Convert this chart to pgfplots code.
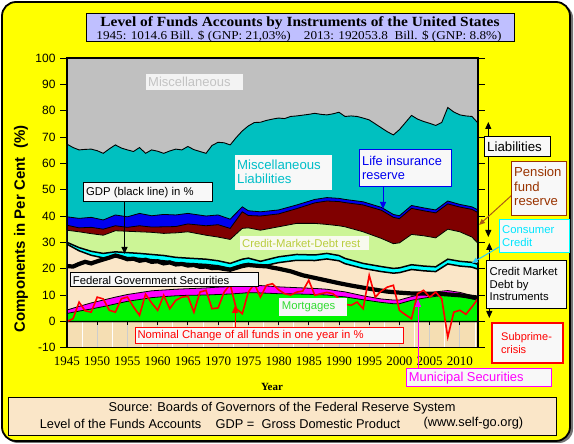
\documentclass[border=0pt]{standalone}
\usepackage{pgfplots}
\pgfplotsset{compat=1.18}
\usepackage{pgfplotstable}
\usetikzlibrary{arrows.meta}
\usepackage{graphicx}
\usepackage{fontspec}
\setmainfont{Liberation Sans}
\newfontfamily\serif{Liberation Serif}

\definecolor{bgyellow}{RGB}{255,255,0}
\definecolor{misc}{RGB}{192,192,192}
\definecolor{miscliab}{RGB}{0,192,192}
\definecolor{life}{RGB}{0,0,240}
\definecolor{pension}{RGB}{128,0,0}
\definecolor{cmdrest}{RGB}{204,245,150}
\definecolor{cc}{RGB}{0,255,255}
\definecolor{fedgov}{RGB}{250,230,200}
\definecolor{muni}{RGB}{255,0,255}
\definecolor{mort}{RGB}{0,245,0}
\definecolor{below}{RGB}{245,222,179}
\definecolor{titlebox}{RGB}{191,191,255}
\definecolor{srcbox}{RGB}{250,230,200}
\definecolor{boxfill}{RGB}{248,248,248}
\definecolor{pensiontxt}{RGB}{153,51,0}
\definecolor{pensionarr}{RGB}{170,90,20}
\definecolor{cmdtxt}{RGB}{185,205,60}
\definecolor{mortxt}{RGB}{50,220,50}
\definecolor{liabtxt}{RGB}{0,190,200}
\definecolor{cctxt}{RGB}{0,230,255}
\definecolor{ccarr}{RGB}{40,200,255}

% boundaries (cumulative tops of stacked components, %)
\pgfplotstableread{
yr v
1945 3.0
1947 3.9
1949 4.7
1951 5.6
1953 6.6
1955 7.6
1957 8.3
1959 9.0
1961 9.4
1963 9.7
1965 9.9
1968 10.0
1970 10.2
1972 10.4
1974 10.7
1975 10.9
1977 10.8
1980 10.5
1983 10.4
1986 10.2
1988 10.0
1990 9.5
1991 9.3
1994 8.2
1997 7.2
1999 6.7
2000 6.7
2002 8.0
2004 8.8
2006 9.5
2008 10.0
2010 9.6
2012 8.5
2013 8.0
}\tbA
\pgfplotstableread{
yr v
1945 4.3
1947 5.7
1949 7.0
1951 8.1
1953 9.2
1955 10.2
1957 10.9
1959 11.6
1961 11.9
1963 12.2
1965 12.4
1968 12.7
1970 13.0
1972 13.2
1974 13.5
1975 13.7
1977 13.6
1980 13.1
1983 12.8
1986 12.5
1988 12.2
1990 11.5
1991 11.2
1994 9.7
1997 8.5
1999 8.1
2000 8.1
2002 9.4
2004 10.4
2006 11.2
2008 11.7
2010 11.0
2012 9.8
2013 9.3
}\tbB
\pgfplotstableread{
yr v
1945 29.3
1947 26.8
1949 25.1
1951 24.1
1953 24.5
1955 24.2
1957 23.9
1959 23.4
1961 23.0
1963 22.3
1965 22.0
1968 21.6
1970 21.1
1972 20.1
1974 21.6
1975 22.0
1977 20.8
1980 22.3
1983 23.2
1986 23.1
1988 23.7
1990 23.0
1991 21.9
1994 20.1
1997 18.9
1999 18.3
2000 18.5
2002 19.7
2004 19.2
2006 18.9
2008 21.8
2010 21.0
2012 20.6
2013 19.8
}\tbC
\pgfplotstableread{
yr v
1945 30.0
1947 28.0
1949 26.6
1951 25.8
1953 26.4
1955 26.1
1957 25.8
1959 25.4
1961 25.0
1963 24.3
1965 24.0
1968 23.6
1970 23.0
1972 22.0
1974 23.6
1975 24.0
1977 22.8
1980 24.5
1983 25.4
1986 25.2
1988 25.8
1990 25.0
1991 23.9
1994 22.0
1997 20.8
1999 20.1
2000 20.3
2002 21.5
2004 21.0
2006 20.7
2008 23.6
2010 22.8
2012 22.4
2013 21.6
}\tbD
\pgfplotstableread{
yr v
1945 34.6
1947 34.0
1949 33.3
1951 32.7
1953 34.4
1955 34.2
1957 34.0
1959 33.8
1961 33.4
1963 33.6
1965 34.0
1968 32.7
1970 32.0
1972 31.1
1974 35.3
1975 35.5
1977 34.6
1980 35.9
1983 37.2
1986 37.2
1988 36.8
1990 36.3
1991 35.9
1994 34.0
1997 31.5
1999 29.5
2000 29.8
2002 33.0
2004 32.5
2006 31.7
2008 35.0
2010 34.0
2012 32.0
2013 29.6
}\tbE
\pgfplotstableread{
yr v
1945 36.5
1947 35.5
1949 35.7
1951 35.0
1953 36.3
1955 35.7
1957 36.3
1959 35.8
1961 35.9
1963 36.0
1965 37.0
1968 36.3
1970 36.7
1972 35.3
1974 41.6
1975 40.2
1977 40.0
1980 40.8
1983 42.8
1986 45.0
1988 45.7
1990 45.5
1991 45.1
1994 44.2
1997 42.2
1999 39.5
2000 39.0
2002 42.9
2004 42.0
2006 41.2
2008 44.6
2010 43.4
2012 42.5
2013 41.3
}\tbF
\pgfplotstableread{
yr v
1945 39.7
1947 39.1
1949 39.5
1951 38.5
1953 40.4
1955 39.7
1957 41.0
1959 40.1
1961 40.6
1963 40.4
1965 41.0
1968 40.0
1970 40.4
1972 38.8
1974 43.5
1975 42.0
1977 41.6
1980 42.3
1983 44.2
1986 46.3
1988 47.0
1990 46.7
1991 46.3
1994 45.4
1997 43.3
1999 40.6
2000 40.1
2002 44.0
2004 43.1
2006 42.3
2008 45.7
2010 44.4
2012 43.5
2013 42.3
}\tbG
\pgfplotstableread{
yr v
1945 67.3
1946 66.0
1947 65.1
1948 65.3
1949 65.4
1950 64.8
1951 63.8
1952 65.5
1953 67.0
1954 65.8
1955 65.1
1956 64.5
1957 66.0
1958 63.8
1959 65.1
1960 64.6
1961 63.8
1962 64.7
1963 65.4
1964 65.1
1965 66.4
1966 65.2
1967 64.5
1968 63.8
1969 66.8
1970 68.0
1971 67.8
1972 67.0
1973 69.8
1974 72.3
1975 74.2
1976 75.5
1977 75.6
1978 76.3
1979 76.8
1980 77.2
1981 77.0
1982 77.8
1983 78.0
1984 78.3
1985 78.6
1986 79.0
1987 78.6
1988 78.4
1989 78.8
1990 79.4
1991 77.8
1992 78.0
1993 77.8
1994 77.2
1995 76.5
1996 75.0
1997 73.5
1998 72.0
1999 70.8
2000 72.8
2001 75.5
2002 78.2
2003 76.8
2004 75.9
2005 75.2
2006 74.4
2007 75.5
2008 81.2
2009 79.5
2010 78.4
2011 78.0
2012 77.8
2013 75.3
}\tbH
% GDP (black line)
\pgfplotstableread{
yr v
1945 21.0
1946 20.8
1947 21.8
1948 22.6
1949 22.0
1950 22.8
1951 23.5
1952 24.2
1953 25.0
1954 24.4
1955 23.6
1956 23.8
1957 23.0
1958 23.4
1959 22.6
1960 22.8
1961 22.0
1962 22.4
1963 21.6
1964 21.8
1965 21.2
1966 21.4
1967 20.7
1968 20.8
1969 20.2
1970 20.3
1971 19.9
1972 19.6
1973 20.3
1974 21.0
1975 21.4
1976 21.2
1977 21.0
1978 20.9
1979 20.4
1980 20.0
1982 19.0
1984 17.5
1986 16.5
1988 15.5
1990 14.5
1992 13.6
1995 12.4
1998 11.3
2000 10.9
2002 10.6
2005 10.5
2007 10.4
2010 9.9
2013 9.0
}\tbgdp
% Nominal change of all funds in one year
\pgfplotstableread{
yr v
1945 0
1946 1
1947 7.3
1948 4
1949 3.5
1950 9.2
1951 8.5
1952 4.2
1953 3.5
1954 8.6
1955 9.2
1956 5.5
1957 2.3
1958 10.3
1959 7
1960 4.2
1961 9.9
1962 4.8
1963 8
1964 9.2
1965 9.5
1966 3.5
1967 11.1
1968 11.8
1969 4.8
1970 5.1
1971 11.1
1972 14
1973 4.8
1974 2.9
1975 11.1
1976 14.3
1977 9.2
1978 13.7
1979 14.3
1980 12
1981 10.5
1982 10
1983 11.1
1984 11.5
1985 15.6
1986 9.9
1987 10.5
1988 11
1989 10.5
1990 8.6
1991 6.5
1992 6.1
1993 7.3
1994 4.8
1995 17.5
1996 9.2
1997 11.5
1998 13
1999 13.7
2000 4.2
2001 2.5
2002 1
2003 10.5
2004 11.8
2005 9.2
2006 11.1
2007 8.6
2008 -6
2009 3.5
2010 4.2
2011 2.7
2012 5.5
2013 8.6
}\tbchg

\begin{document}
\begin{tikzpicture}
\begin{scope}[x=1pt,y=1pt]
\path (0,0) rectangle (574,444);
\fill[black!55, rounded corners=14pt] (4,1) rectangle (573,440);
\draw[line width=1.8pt, fill=bgyellow, rounded corners=14pt] (2,3) rectangle (570,442);
\end{scope}

\begin{axis}[
  at={(67pt,96.3pt)}, anchor=south west,
  scale only axis, width=411pt, height=289.7pt,
  xmin=1945, xmax=2013, ymin=-10, ymax=100,
  axis background/.style={fill=below},
  xtick={1945,1950,1955,1960,1965,1970,1975,1980,1985,1990,1995,2000,2005,2010},
  xticklabels={1945,1950,1955,1960,1965,1970,1975,1980,1985,1990,1995,2000,2005,2010},
  minor xtick={1947.5,1952.5,1957.5,1962.5,1967.5,1972.5,1977.5,1982.5,1987.5,1992.5,1997.5,2002.5,2007.5,2012.5},
  xmajorgrids, xminorgrids,
  major grid style={draw={rgb,255:red,205;green,205;blue,205}, line width=0.9pt},
  minor grid style={draw=white, line width=0.9pt},
  xtick style={draw=none},
  ytick={-10,0,10,20,30,40,50,60,70,80,90,100},
  ytick style={black, line width=0.8pt},
  tick align=outside, major tick length=7pt, minor tick length=0pt,
  /pgf/number format/assume math mode=true,
  yticklabel style={font=\fontsize{12}{12}\selectfont, xshift=-1pt},
  xticklabel style={font=\serif\fontsize{13}{13}\selectfont, yshift=1pt},
  axis line style={line width=1.5pt},
  no markers,
]
% stacked areas, painted from the top component down
\addplot[fill=misc, draw=none] coordinates {(1945,100) (2013,100)} -- (axis cs:2013,0) -- (axis cs:1945,0) -- cycle;
\addplot[fill=miscliab, draw=black, line width=0.9pt] table[x=yr,y=v]{\tbH} -- (axis cs:2013,0) -- (axis cs:1945,0) -- cycle;
\addplot[fill=life, draw=black, line width=0.8pt] table[x=yr,y=v]{\tbG} -- (axis cs:2013,0) -- (axis cs:1945,0) -- cycle;
\addplot[fill=pension, draw=black, line width=0.8pt] table[x=yr,y=v]{\tbF} -- (axis cs:2013,0) -- (axis cs:1945,0) -- cycle;
\addplot[fill=cmdrest, draw=black, line width=0.8pt] table[x=yr,y=v]{\tbE} -- (axis cs:2013,0) -- (axis cs:1945,0) -- cycle;
\addplot[fill=cc, draw=black, line width=1.5pt] table[x=yr,y=v]{\tbD} -- (axis cs:2013,0) -- (axis cs:1945,0) -- cycle;
\addplot[fill=fedgov, draw=black, line width=1.5pt] table[x=yr,y=v]{\tbC} -- (axis cs:2013,0) -- (axis cs:1945,0) -- cycle;
\addplot[fill=muni, draw=black, line width=0.8pt] table[x=yr,y=v]{\tbB} -- (axis cs:2013,0) -- (axis cs:1945,0) -- cycle;
\addplot[fill=mort, draw=black, line width=0.8pt] table[x=yr,y=v]{\tbA} -- (axis cs:2013,0) -- (axis cs:1945,0) -- cycle;

\addplot[black, line width=4.2pt] table[x=yr,y=v]{\tbgdp};
\addplot[red, line width=1.6pt] table[x=yr,y=v]{\tbchg};

\pgfplotsinvokeforeach{1950,1955,1960,1965,1970,1975,1980,1985,1990,1995,2000,2005,2010}{
  \draw[black, line width=0.8pt] (axis cs:#1,0) -- ++(0pt,-4pt);
}
\draw[line width=1.6pt] (rel axis cs:0,0) rectangle (rel axis cs:1,1);
\end{axis}

\begin{scope}[x=1pt,y=1pt]
% title
\filldraw[draw=black, fill=titlebox, line width=1pt] (86,430) rectangle (514,402);
\node[font=\serif\bfseries\fontsize{14}{14}\selectfont, inner sep=0pt] at (300,421) {\scalebox{1.1}[1]{Level of Funds Accounts by Instruments of the United States}};
\node[font=\serif\fontsize{12}{12}\selectfont, inner sep=0pt] at (299,408) {\scalebox{1.1}[1]{1945: 1014.6 Bill. \$ (GNP: 21,03\%)\quad 2013: 192053.8\ \ Bill. \$ (GNP: 8.8\%)}};

% source
\filldraw[draw=black, fill=srcbox, line width=1pt] (8,46) rectangle (556,8);
\node[font=\fontsize{12.8}{13}\selectfont, inner sep=0pt] at (282,35.5) {Source: Boards of Governors of the Federal Reserve System};
\node[font=\fontsize{12.8}{13}\selectfont, inner sep=0pt, anchor=west] at (39.6,20.5) {Level of the Funds Accounts};
\node[font=\fontsize{12.8}{13}\selectfont, inner sep=0pt, anchor=west] at (215.5,20.5) {GDP =\ \ Gross Domestic Product};
\node[font=\fontsize{12.8}{13}\selectfont, inner sep=0pt, anchor=west] at (423.4,20.5) {(www.self-go.org)};

% axis labels
\node[rotate=90, font=\bfseries\fontsize{15}{15}\selectfont, inner sep=0pt] at (21,215) {Components in Per Cent\ \ (\%)};
\node[font=\serif\bfseries\fontsize{11}{11}\selectfont, inner sep=0pt] at (272,57) {Year};

% right side arrows
\draw[line width=1pt, {Triangle[length=7pt,width=6pt]}-{Triangle[length=7pt,width=6pt]}] (488.3,322) -- (488.3,207);
\draw[line width=1pt, {Triangle[length=7pt,width=6pt]}-{Triangle[length=7pt,width=6pt]}] (489.3,201) -- (489.3,126);
\draw[pensionarr, line width=1pt, -{Triangle[length=6pt,width=5pt]}] (512,249) -- (479,219);
\draw[ccarr, line width=1pt, -{Triangle[length=6pt,width=5pt]}] (499,197) -- (472,181);

% right side boxes
\filldraw[draw=black, fill=boxfill, line width=1pt] (484,307) rectangle (550,287);
\node[font=\fontsize{13.3}{14}\selectfont, inner sep=0pt, anchor=west] at (487,297) {Liabilities};

\filldraw[draw=pensiontxt, fill=boxfill, line width=1pt] (511,282) rectangle (566,228);
\node[font=\fontsize{13.1}{14.5}\selectfont, text=pensiontxt, inner sep=0pt, anchor=west, align=left] at (514,257.5) {Pension\\fund\\reserve};

\filldraw[draw=cc, fill=boxfill, line width=1pt] (499,224) rectangle (569,191);
\node[font=\fontsize{11.3}{13.4}\selectfont, text=cctxt, inner sep=0pt, anchor=west, align=left] at (502,208) {Consumer\\Credit};

\filldraw[draw=black, fill=boxfill, line width=1pt] (486,183) rectangle (566,135);
\node[font=\fontsize{11.3}{12.7}\selectfont, inner sep=0pt, anchor=west, align=left] at (489.5,160) {Credit Market\\Debt by\\Instruments};

\filldraw[draw=red, fill=boxfill, line width=2pt] (492,121) rectangle (563,81);
\node[font=\fontsize{11}{13}\selectfont, text=red, inner sep=0pt, anchor=west, align=left] at (501,100.5) {Subprime-\\crisis};

\draw[muni, line width=1pt, -{Triangle[length=8pt,width=6pt]}] (418,75) -- (418,145);
\filldraw[draw=muni, fill=boxfill, line width=1pt] (406,75) rectangle (551,57);
\node[font=\fontsize{12.9}{13}\selectfont, text=muni, inner sep=0pt, anchor=west] at (408.7,66) {Municipal Securities};

% in-plot labels
\fill[fill={rgb,255:red,243;green,243;blue,243}] (146,370) rectangle (243,354);
\node[font=\fontsize{13}{13}\selectfont, text={rgb,255:red,195;green,195;blue,195}, inner sep=0pt, anchor=west] at (148,362) {Miscellaneous};

\fill[fill=boxfill] (235,289) rectangle (332,254);
\node[font=\fontsize{13.2}{14}\selectfont, text=liabtxt, inner sep=0pt, anchor=west, align=left] at (237,272) {Miscellaneous\\Liabilities};

\draw[black, line width=1pt, -{Triangle[length=7pt,width=6pt]}] (124.5,242) -- (124.5,190);
\filldraw[draw=black, fill=boxfill, line width=1pt] (83,261) rectangle (212,242);
\node[font=\fontsize{11.3}{12}\selectfont, inner sep=0pt, anchor=west] at (86,251.5) {GDP (black line) in \%};

\draw[life, line width=1pt, -{Triangle[length=7pt,width=6pt]}] (383,257) -- (383,235);
\filldraw[draw=life, fill=boxfill, line width=1pt] (359,294) rectangle (451,257);
\node[font=\fontsize{12.8}{13.3}\selectfont, text=life, inner sep=0pt, anchor=west, align=left] at (362,276) {Life insurance\\reserve};

\fill[fill={rgb,255:red,248;green,250;blue,238}] (240,208) rectangle (369,194);
\node[font=\fontsize{11.3}{12}\selectfont, text=cmdtxt, inner sep=0pt, anchor=west] at (242,201) {Credit-Market-Debt rest};

\filldraw[draw=black, fill=boxfill, line width=1pt] (70,171) rectangle (258,157);
\node[font=\fontsize{11.3}{12}\selectfont, inner sep=0pt, anchor=west] at (72.7,164) {Federal Government Securities};

\fill[fill=boxfill] (279,146) rectangle (347,128);
\node[font=\fontsize{11.3}{12}\selectfont, text=mortxt, inner sep=0pt, anchor=west] at (281.7,137) {Mortgages};

\draw[red, line width=1pt, -{Triangle[length=7pt,width=6pt]}] (235,116) -- (235,138);
\filldraw[draw=red, fill=boxfill, line width=1pt] (135,116) rectangle (403,100);
\node[font=\fontsize{11.3}{12}\selectfont, text=red, inner sep=0pt, anchor=west] at (137.3,108) {Nominal Change of all funds in one year in \%};
\end{scope}
\end{tikzpicture}
\end{document}
